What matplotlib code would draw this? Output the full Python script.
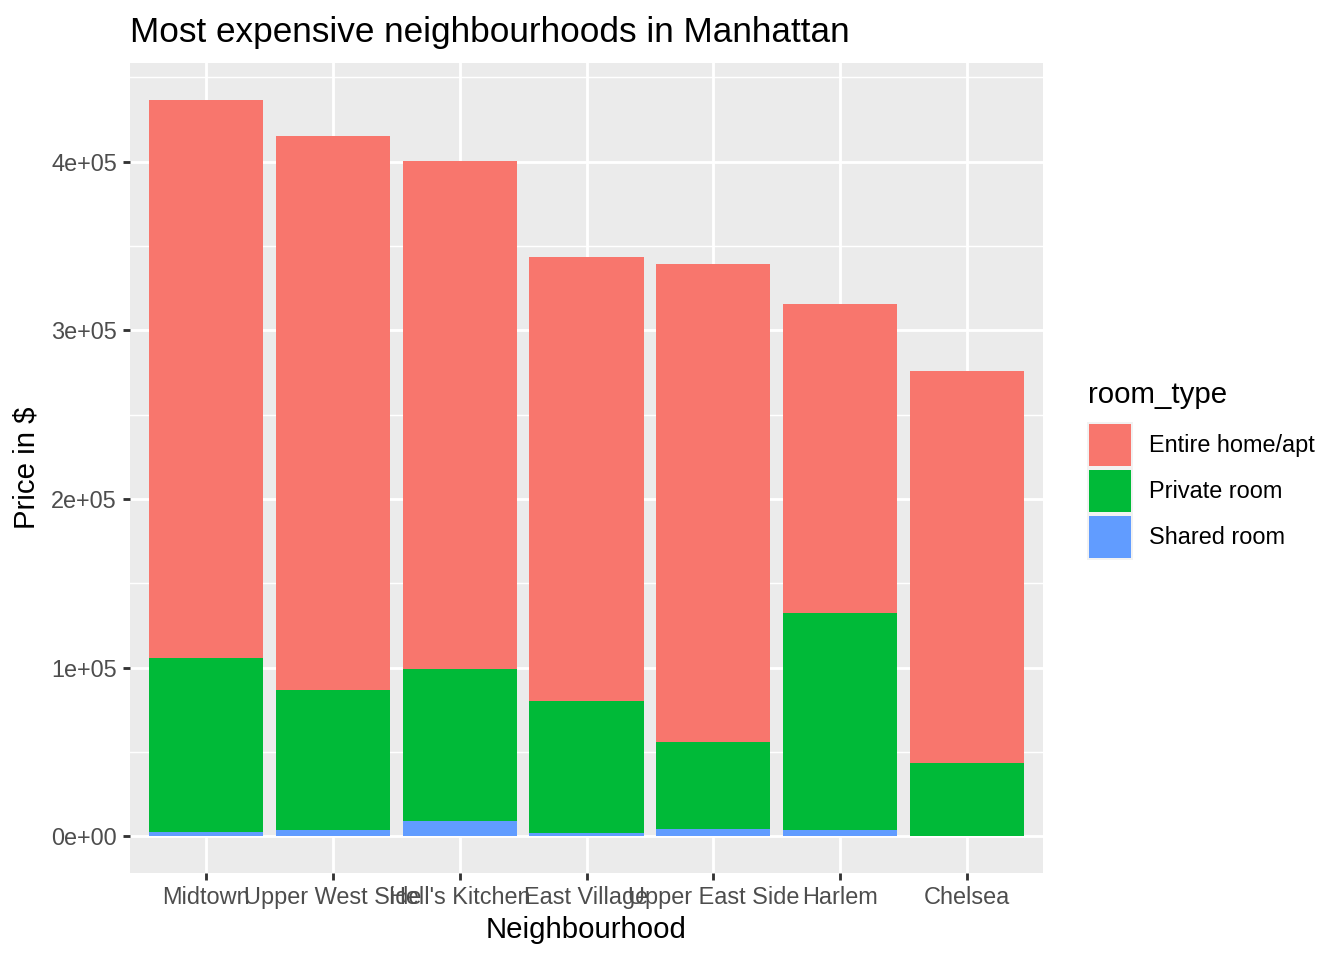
import numpy as np
import matplotlib.pyplot as plt
from matplotlib.patches import Rectangle

plt.rcParams['font.family'] = ['Liberation Sans', 'DejaVu Sans']

# data
neighbourhoods = ["Midtown", "Upper West Side", "Hell's Kitchen", "East Village",
                  "Upper East Side", "Harlem", "Chelsea"]
shared_room = [2200, 3400, 9300, 1800, 4000, 3400, 300]
private_room = [103300, 83100, 89700, 78200, 51700, 128700, 43000]
entire_home = [331200, 328900, 301600, 263700, 283900, 183800, 232300]
room_types = ["Entire home/apt", "Private room", "Shared room"]
colors = ["#F8766D", "#00BA38", "#619CFF"]

fig = plt.figure(figsize=(7, 5), dpi=192)
ax = fig.add_axes([130 / 1344, 1 - 873 / 960, (1043 - 130) / 1344, (873 - 63) / 960])

x = np.arange(1, len(neighbourhoods) + 1)
shared = np.array(shared_room)
private = np.array(private_room)
entire = np.array(entire_home)

ax.bar(x, shared, width=0.9, color=colors[2], zorder=3)
ax.bar(x, private, width=0.9, bottom=shared, color=colors[1], zorder=3)
ax.bar(x, entire, width=0.9, bottom=shared + private, color=colors[0], zorder=3)

total = shared + private + entire
ymax = total.max()
ax.set_ylim(-0.05 * ymax, 1.05 * ymax)
ax.set_xlim(0.4, len(neighbourhoods) + 0.6)

# ggplot-like theme
ax.set_facecolor("#EBEBEB")
for s in ax.spines.values():
    s.set_visible(False)
yt = np.arange(0, 500000, 100000)
ax.set_yticks(yt)
ax.set_yticklabels(["0e+00", "1e+05", "2e+05", "3e+05", "4e+05"])
ax.set_yticks(np.arange(50000, 450001, 100000), minor=True)
ax.set_xticks(x)
ax.set_xticklabels(neighbourhoods)
ax.grid(which="major", color="white", linewidth=1.07, zorder=0)
ax.grid(which="minor", axis="y", color="white", linewidth=0.53, zorder=0)
ax.set_axisbelow(True)
ax.tick_params(which="major", length=2.75, width=1.07, color="#333333",
               labelsize=8.8, labelcolor="#4D4D4D", pad=2.2)
ax.tick_params(which="minor", length=0)

ax.set_xlabel("Neighbourhood", fontsize=11, labelpad=2.5)
ax.set_ylabel("Price in $", fontsize=11, labelpad=4)
ax.set_title("Most expensive neighbourhoods in Manhattan", fontsize=13.2,
             loc="left", pad=8)

# legend
fig.text(1088 / 1344, 1 - 395 / 960, "room_type", fontsize=11, va="center", ha="left")
key_tops = [422, 468, 514]
for top, c, lab in zip(key_tops, colors, room_types):
    fig.add_artist(Rectangle((1087 / 1344, 1 - (top + 46) / 960), 46 / 1344, 46 / 960,
                             facecolor="#F2F2F2", edgecolor="none"))
    fig.add_artist(Rectangle((1089 / 1344, 1 - (top + 44) / 960), 42 / 1344, 42 / 960,
                             facecolor=c, edgecolor="none"))
    fig.text(1149 / 1344, 1 - (top + 23) / 960, lab, fontsize=8.8, va="center", ha="left")

fig.savefig("out.png", dpi=192)
